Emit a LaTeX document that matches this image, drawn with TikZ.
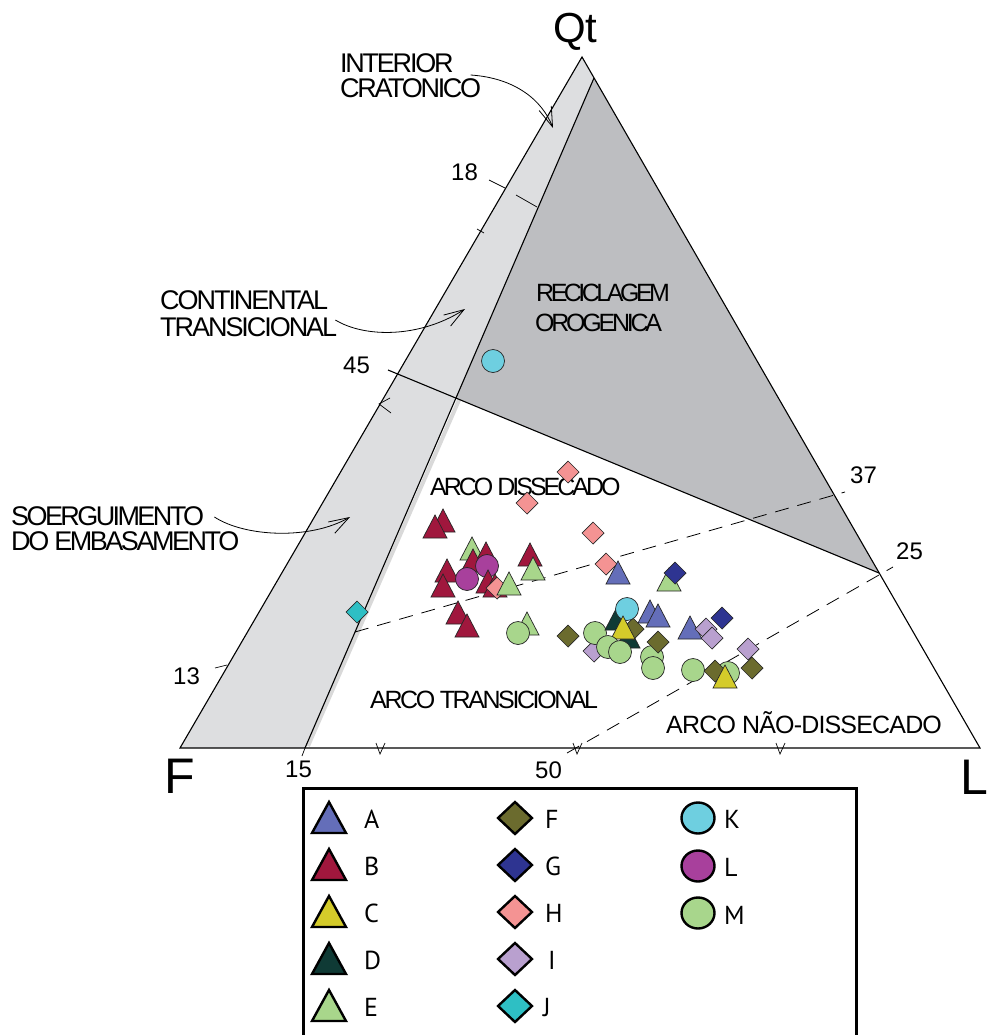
\documentclass[tikz,border=0pt]{standalone}
\usepackage{fontspec}
\setmainfont{Liberation Sans}
\newfontfamily\legfont{PT Sans}
\usetikzlibrary{arrows.meta,calc}
\definecolor{cA}{RGB}{100,110,185}
\definecolor{cB}{RGB}{160,23,61}
\definecolor{cC}{RGB}{212,203,42}
\definecolor{cD}{RGB}{15,58,53}
\definecolor{cE}{RGB}{168,214,139}
\definecolor{cF}{RGB}{107,107,46}
\definecolor{cG}{RGB}{46,52,145}
\definecolor{cH}{RGB}{244,147,147}
\definecolor{cI}{RGB}{185,160,207}
\definecolor{cJ}{RGB}{46,191,196}
\definecolor{cK}{RGB}{110,207,224}
\definecolor{cL}{RGB}{168,64,156}
\definecolor{cM}{RGB}{168,214,140}
\definecolor{lgray}{RGB}{221,222,224}
\definecolor{dgray}{RGB}{189,190,193}
\newcommand\trk[2]{{\addfontfeature{LetterSpace=#1}#2}}
\newcommand\Tri[3]{\draw[ptsym,fill=#1] (#2-12,#3+10) -- (#2+12,#3+10) -- (#2,#3-13) -- cycle;}
\newcommand\Dia[3]{\draw[ptsym,fill=#1] (#2-11,#3) -- (#2,#3-11) -- (#2+11,#3) -- (#2,#3+11) -- cycle;}
\newcommand\Cir[3]{\draw[ptsym,fill=#1] (#2,#3) circle[radius=11.5];}
\newcommand\LTri[2]{\draw[legsym,fill=#1] (312,#2+31) -- (346,#2+31) -- (329,#2) -- cycle;}
\newcommand\LDia[2]{\draw[legsym,fill=#1] (498,#2) -- (515,#2-16) -- (532,#2) -- (515,#2+16) -- cycle;}
\newcommand\LCir[2]{\draw[legsym,fill=#1] (698,#2) ellipse[x radius=16.5,y radius=15.5];}
\tikzset{
  edge/.style={line width=1.1pt},
  ptsym/.style={draw=black!85,line width=0.7pt},
  legsym/.style={draw=black,line width=2.4pt},
  region/.style={font=\fontsize{25}{25}\selectfont,anchor=base west,inner sep=0pt},
  bigregion/.style={font=\fontsize{27}{27}\selectfont,anchor=base west,inner sep=0pt},
  num/.style={font=\fontsize{24}{24}\selectfont,anchor=base west,inner sep=0pt},
  vert/.style={font=\fontsize{50}{50}\selectfont,anchor=base west,inner sep=0pt},
  legtxt/.style={font=\legfont\fontsize{26}{26}\selectfont,anchor=base west,inner sep=0pt},
  callout/.style={line width=0.8pt,-{Straight Barb[length=20pt,width=13pt]}},
  dashline/.style={line width=0.8pt,dash pattern=on 14pt off 9pt},
  tick/.style={line width=0.7pt},
}
\begin{document}
\begin{tikzpicture}[x=1pt,y=-1pt]
\useasboundingbox[fill=white] (0,0) rectangle (989,1035);
% corners
\coordinate (F) at (180,748);
\coordinate (L) at (980,748);
\coordinate (Q) at (582,57);
\coordinate (It) at (594,78);
\coordinate (Ib) at (305,748);
\coordinate (B45) at (456,398);
\coordinate (S45) at (388,370);
\coordinate (R25) at (879,573);
% fills
\fill[lgray] (F) -- (Q) -- (It) -- (Ib) -- cycle;
\fill[dgray] (It) -- (B45) -- (R25) -- cycle;
\draw[black!15,line width=4pt] ($(B45)+(3,2)$) -- ($(Ib)+(3,-2)$);
% lines
\draw[edge] (F) -- (Q) -- (L) -- cycle;
\draw[edge] (It) -- (Ib);
\draw[edge] (S45) -- (R25);
\coordinate (d1s) at (355,632);
\coordinate (d1e) at (845,492);
\coordinate (d2s) at (567,753);
\coordinate (d2e) at (893,567);
\draw[dashline] (d1s) -- (d1e);
\draw[dashline] (d2s) -- (d2e);
% ticks and marks
\draw[tick] (489,180) -- (505,188);
\draw[tick] (516,195) -- (537,207);
\draw[tick] (215,668) -- (227,665);
\draw[tick] (305,748) -- (302,756);
\draw[tick] (477,229) -- (484,233);
\draw[tick] (390,398) -- (379,404) -- (391,413);
\draw[tick] (376,743) -- (380,754) -- (385,743);
\draw[tick] (573,743) -- (577,754) -- (582,743);
\draw[tick] (776,743) -- (780,754) -- (785,743);
% vertex labels
\node[vert,font=\fontsize{42}{42}\selectfont] (tQ) at (553,43) {Qt};
\node[vert] (tF) at (164,793) {F};
\node[vert] (tL) at (960,794) {L};
% numbers
\node[num] (n18) at (451,180) {18};
\node[num] (n45) at (343,373) {45};
\node[num] (n13) at (173,684) {13};
\node[num] (n15) at (285,777) {15};
\node[num] (n50) at (535,778) {50};
\node[num] (n37) at (850,483) {37};
\node[num] (n25) at (896,559) {25};
% region labels
\node[bigregion] (intA) at (340,73) {\trk{-8.3}{INTERIOR}};
\node[bigregion] (intB) at (340,98) {\trk{-8.6}{CRATONICO}};
\node[bigregion] (conA) at (160,309) {\trk{-7.6}{CONTINENTAL}};
\node[bigregion] (conB) at (160,336) {\trk{-7.6}{TRANSICIONAL}};
\node[bigregion] (soeA) at (11,525) {\trk{-9.6}{SOERGUIMENTO}};
\node[bigregion] (soeB) at (11,550) {\trk{-9.1}{DO EMBASAMENTO}};
\node[region] (recA) at (536,301) {\trk{-14}{RECICLAGEM}};
\node[region] (recB) at (535,331) {\trk{-13}{OROGENICA}};
\node[region] (arcD) at (430,495) {\trk{-12}{ARCO DISSECADO}};
\node[region] (arcT) at (370,708) {\trk{-9.6}{ARCO TRANSICIONAL}};
\node[region] (arcN) at (666,733) {\trk{-3.3}{ARCO NÃO-DISSECADO}};
% callouts
\coordinate (a1e) at (553,128);
\coordinate (a2e) at (465,309);
\coordinate (a3e) at (350,517);
\draw[callout] ([xshift=17pt,yshift=-2pt]intA.base east) .. controls (515,78) and (542,100) .. (a1e);
\draw[callout] ([xshift=-2pt,yshift=16pt]conB.base east) .. controls (365,338) and (420,338) .. (a2e);
\draw[callout] ([xshift=10pt,yshift=8pt]soeA.base east) .. controls (245,537) and (310,540) .. (a3e);
% data points
\Cir{cK}{493}{361}
\Dia{cJ}{357}{612}
\Dia{cH}{568}{472}
\Dia{cH}{527}{503}
\Dia{cH}{593}{533}
\Tri{cB}{443}{522}
\Tri{cB}{435}{528}
\Tri{cE}{472}{550}
\Tri{cB}{486}{555}
\Tri{cB}{473}{562}
\Tri{cB}{447}{572}
\Tri{cB}{443}{587}
\Cir{cL}{487}{566}
\Cir{cL}{467}{579}
\Tri{cB}{488}{583}
\Tri{cB}{495}{587}
\Dia{cH}{497}{588}
\Tri{cE}{509}{585}
\Tri{cB}{530}{556}
\Tri{cE}{533}{570}
\Tri{cB}{458}{614}
\Tri{cB}{467}{627}
\Tri{cE}{527}{625}
\Cir{cM}{518}{633}
\Dia{cH}{606}{564}
\Tri{cA}{618}{574}
\Tri{cE}{669}{581}
\Dia{cG}{675}{573}
\Dia{cF}{568}{636}
\Dia{cI}{594}{651}
\Cir{cM}{595}{633}
\Tri{cD}{628}{638}
\Dia{cF}{633}{629}
\Tri{cD}{617}{620}
\Cir{cK}{627}{609}
\Tri{cC}{623}{629}
\Cir{cM}{608}{647}
\Cir{cM}{620}{652}
\Tri{cA}{650}{613}
\Tri{cA}{658}{617}
\Cir{cM}{652}{657}
\Cir{cM}{653}{668}
\Dia{cF}{658}{642}
\Tri{cA}{690}{629}
\Dia{cI}{706}{629}
\Dia{cI}{712}{638}
\Dia{cG}{722}{618}
\Dia{cI}{748}{649}
\Dia{cF}{752}{668}
\Cir{cM}{693}{670}
\Cir{cM}{728}{673}
\Dia{cF}{715}{671}
\Tri{cC}{725}{678}
% legend
\draw[line width=3pt] (303,1040) -- (303,788) -- (856,788) -- (856,1040);
\LTri{cA}{802}
\LTri{cB}{849}
\LTri{cC}{896}
\LTri{cD}{943}
\LTri{cE}{990}
\LDia{cF}{818}
\LDia{cG}{865}
\LDia{cH}{912}
\LDia{cI}{959}
\LDia{cJ}{1006}
\LCir{cK}{818}
\LCir{cL}{866}
\LCir{cM}{913}
\node[legtxt] (lA) at (364,828) {A};
\node[legtxt] (lB) at (364,875) {B};
\node[legtxt] (lC) at (364,922) {C};
\node[legtxt] (lD) at (364,969) {D};
\node[legtxt] (lE) at (364,1016) {E};
\node[legtxt] (lF) at (545,828) {F};
\node[legtxt] (lG) at (545,875) {G};
\node[legtxt] (lH) at (545,922) {H};
\node[legtxt] (lI) at (548,969) {I};
\node[legtxt] (lJ) at (543,1016) {J};
\node[legtxt] (lK) at (724,828) {K};
\node[legtxt] (lL) at (724,876) {L};
\node[legtxt] (lM) at (724,924) {M};
\end{tikzpicture}
\end{document}
